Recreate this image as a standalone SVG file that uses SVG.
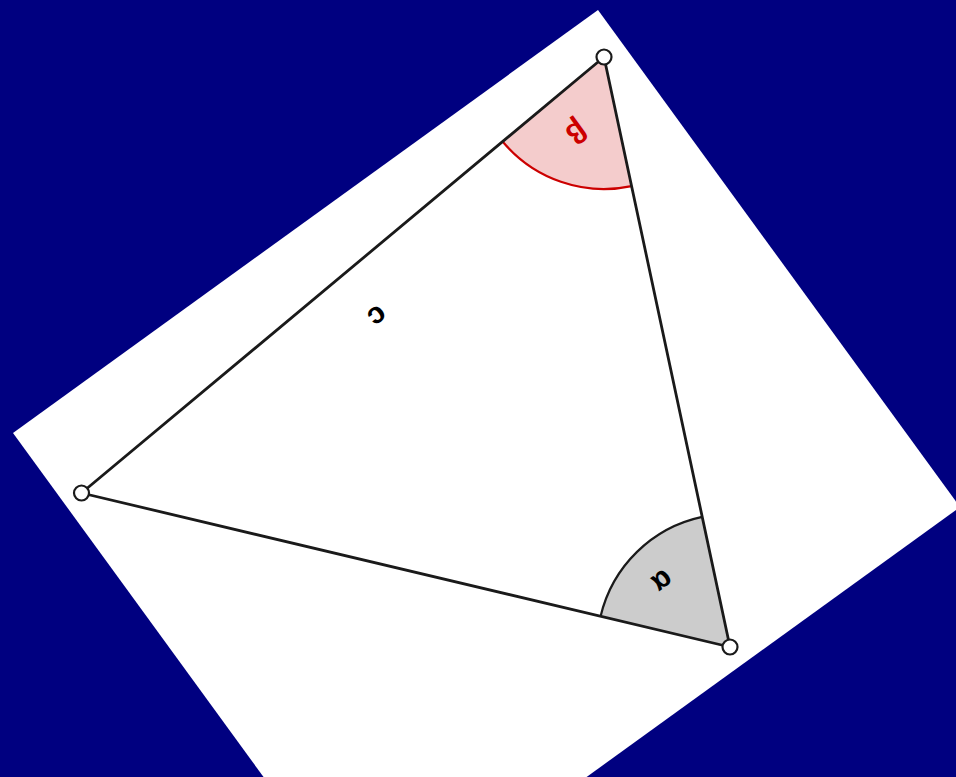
<svg xmlns="http://www.w3.org/2000/svg" width="956" height="777" viewBox="0 0 956 777">
<style>
.edge{stroke:#1a1a1a;stroke-width:2.8;fill:none;stroke-linecap:round}
.pt{fill:#ffffff;stroke:#1a1a1a;stroke-width:2.2}
.lbl{font-family:"Liberation Sans",Arial,sans-serif;font-size:30px;font-weight:bold;text-anchor:middle;dominant-baseline:central}
</style>
<rect x="0" y="0" width="956" height="777" fill="#000080"/>
<polygon points="13,433 598,10 960,507 375,930" fill="#ffffff"/>
<g id="angle-beta">
<path d="M604,57 L502.6,141.5 A132 132 0 0 0 631.6,186.1 Z" fill="#f4cccc"/>
<path d="M502.6,141.5 A132 132 0 0 0 631.6,186.1" fill="none" stroke="#cc0000" stroke-width="2.2"/>
<text class="lbl" x="577" y="133" fill="#cc0000" transform="rotate(144 577 133)">β</text>
</g>
<g id="angle-alpha">
<path d="M730,647 L702.2,516.9 A133 133 0 0 0 600.6,616.3 Z" fill="#cccccc"/>
<path d="M702.2,516.9 A133 133 0 0 0 600.6,616.3" fill="none" stroke="#1a1a1a" stroke-width="2.2"/>
<text class="lbl" x="663" y="582" fill="#000000" transform="rotate(144 663 582)">α</text>
</g>
<g id="connectors">
<line class="edge" x1="81.5" y1="493" x2="604" y2="57"/>
<line class="edge" x1="604" y1="57" x2="730" y2="647"/>
<line class="edge" x1="730" y1="647" x2="81.5" y2="493"/>
</g>
<g id="label-c">
<text class="lbl" x="378" y="317" fill="#000000" transform="rotate(144 378 317)">c</text>
</g>
<g id="vertex-A"><circle class="pt" cx="81.5" cy="493" r="7.5"/></g>
<g id="vertex-B"><circle class="pt" cx="604" cy="57" r="7.5"/></g>
<g id="vertex-C"><circle class="pt" cx="730" cy="647" r="7.5"/></g>
</svg>
